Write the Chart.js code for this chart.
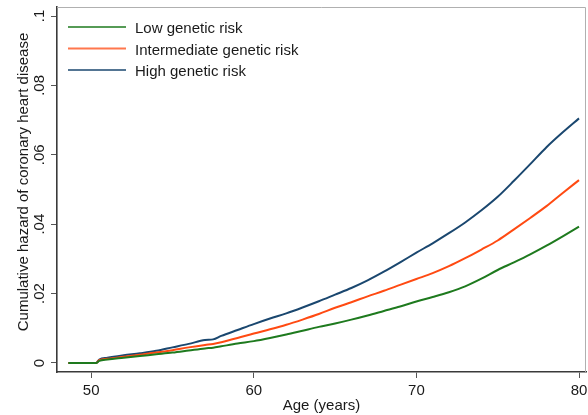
<!DOCTYPE html>
<html>
<head>
<meta charset="utf-8">
<script src="https://cdn.jsdelivr.net/npm/chart.js@4.4.1/dist/chart.umd.min.js"></script>
<style>
  html, body { margin: 0; padding: 0; background: #ffffff; }
  #wrap { width: 588px; height: 415px; position: relative; }
</style>
</head>
<body>
<div id="wrap"><canvas id="c" width="588" height="415"></canvas></div>
<script>
const ages = [48.6, 50.3, 50.5, 51, 52, 53, 54, 55, 56, 57, 57.5, 58, 59, 60, 61, 62, 63, 64, 65, 66, 67, 68, 69, 70, 71, 72, 73, 74, 75, 76, 77, 78, 79, 80];
const lowRisk = [0, 0, 0.0006, 0.0010, 0.0015, 0.0020, 0.0025, 0.0030, 0.0036, 0.0042, 0.0044, 0.0048, 0.0056, 0.0063, 0.0072, 0.0082, 0.0093, 0.0104, 0.0114, 0.0125, 0.0137, 0.0150, 0.0163, 0.0177, 0.0190, 0.0204, 0.0221, 0.0243, 0.0268, 0.0290, 0.0313, 0.0338, 0.0365, 0.0393];
const intermediateRisk = [0, 0, 0.0008, 0.0012, 0.0018, 0.0024, 0.0030, 0.0037, 0.0045, 0.0052, 0.0055, 0.0060, 0.0072, 0.0085, 0.0097, 0.0110, 0.0125, 0.0141, 0.0159, 0.0175, 0.0192, 0.0208, 0.0225, 0.0242, 0.0259, 0.0279, 0.0302, 0.0327, 0.0353, 0.0385, 0.0418, 0.0452, 0.0490, 0.0527];
const highRisk = [0, 0, 0.0010, 0.0015, 0.0022, 0.0028, 0.0035, 0.0045, 0.0055, 0.0066, 0.0068, 0.0078, 0.0095, 0.0112, 0.0128, 0.0143, 0.0160, 0.0178, 0.0197, 0.0216, 0.0238, 0.0263, 0.0290, 0.0318, 0.0345, 0.0374, 0.0405, 0.0440, 0.0479, 0.0525, 0.0573, 0.0622, 0.0665, 0.0705];
const seriesNames = ["Low genetic risk", "Intermediate genetic risk", "High genetic risk"];
const seriesColors = ["#1e7a1e", "#ff4a12", "#1a476f"];
const xTickValues = [50, 60, 70, 80];
const yTickValues = [0, 0.02, 0.04, 0.06, 0.08, 0.1];
const yTickLabels = ["0", ".02", ".04", ".06", ".08", ".1"];
const xTitle = "Age (years)";
const yTitle = "Cumulative hazard of coronary heart disease";

const FONT = '15px "Liberation Sans", Arial, Helvetica, sans-serif';
const TEXT_COLOR = "#1a1a1a";

function toPoints(vals) { return ages.map((a, i) => ({ x: a, y: vals[i] })); }
const seriesData = [lowRisk, intermediateRisk, highRisk];

const decorPlugin = {
  id: "decor",
  afterDraw(chart) {
    const ctx = chart.ctx;
    const ca = chart.chartArea;
    const xs = chart.scales.x, ys = chart.scales.y;
    ctx.save();
    ctx.strokeStyle = "#b0b0b0";
    ctx.lineWidth = 1;
    ctx.beginPath();
    ctx.moveTo(ca.left, ca.top + 0.5);
    ctx.lineTo(ca.right - 0.5, ca.top + 0.5);
    ctx.lineTo(ca.right - 0.5, ca.bottom);
    ctx.stroke();

    ctx.fillStyle = TEXT_COLOR;
    ctx.font = FONT;
    ctx.textAlign = "center";
    ctx.textBaseline = "alphabetic";
    xTickValues.forEach(v => {
      ctx.fillText(String(v), xs.getPixelForValue(v), 395);
    });
    ctx.fillText(xTitle, (ca.left + ca.right) / 2, 410);
    yTickValues.forEach((v, i) => {
      ctx.save();
      ctx.translate(43.5, ys.getPixelForValue(v));
      ctx.rotate(-Math.PI / 2);
      ctx.textAlign = "center";
      ctx.textBaseline = "alphabetic";
      ctx.fillText(yTickLabels[i], 0, 0);
      ctx.restore();
    });
    ctx.save();
    ctx.translate(28, 182);
    ctx.rotate(-Math.PI / 2);
    ctx.textAlign = "center";
    ctx.textBaseline = "alphabetic";
    ctx.fillText(yTitle, 0, 0);
    ctx.restore();

    const rows = [27, 48.5, 70];
    chart.data.datasets.forEach((ds, i) => {
      const y = rows[i];
      ctx.strokeStyle = ds.borderColor;
      ctx.globalAlpha = 0.75;
      ctx.lineWidth = 2;
      ctx.beginPath();
      ctx.moveTo(68, y);
      ctx.lineTo(126, y);
      ctx.stroke();
      ctx.globalAlpha = 1;
      ctx.fillStyle = TEXT_COLOR;
      ctx.textAlign = "left";
      ctx.fillText(ds.label, 135, y + 6);
    });
    ctx.restore();
  }
};

new Chart(document.getElementById("c"), {
  type: "line",
  data: {
    datasets: seriesData.map((vals, i) => ({
      label: seriesNames[i],
      data: toPoints(vals),
      borderColor: seriesColors[i],
      backgroundColor: seriesColors[i],
      borderWidth: 2,
      pointRadius: 0,
      cubicInterpolationMode: "monotone",
      fill: false
    }))
  },
  options: {
    responsive: false,
    animation: false,
    events: [],
    layout: { padding: { top: 7, right: 2, left: 0, bottom: 0 } },
    plugins: { legend: { display: false }, tooltip: { enabled: false } },
    scales: {
      x: {
        type: "linear",
        min: 47.9,
        max: 80.43,
        afterBuildTicks: s => { s.ticks = xTickValues.map(v => ({ value: v })); },
        afterFit: s => { s.height = 43; },
        ticks: { display: false },
        grid: { drawOnChartArea: false, drawTicks: true, tickLength: 6, color: "#555555", lineWidth: 1 },
        border: { display: true, color: "#3a3a3a", width: 1.6 }
      },
      y: {
        type: "linear",
        min: -0.0026,
        max: 0.1026,
        afterBuildTicks: s => { s.ticks = yTickValues.map(v => ({ value: v })); },
        afterFit: s => { s.width = 57; },
        ticks: { display: false },
        grid: { drawOnChartArea: false, drawTicks: true, tickLength: 6, color: "#555555", lineWidth: 1 },
        border: { display: true, color: "#3a3a3a", width: 1.6 }
      }
    }
  },
  plugins: [decorPlugin]
});
</script>
</body>
</html>
